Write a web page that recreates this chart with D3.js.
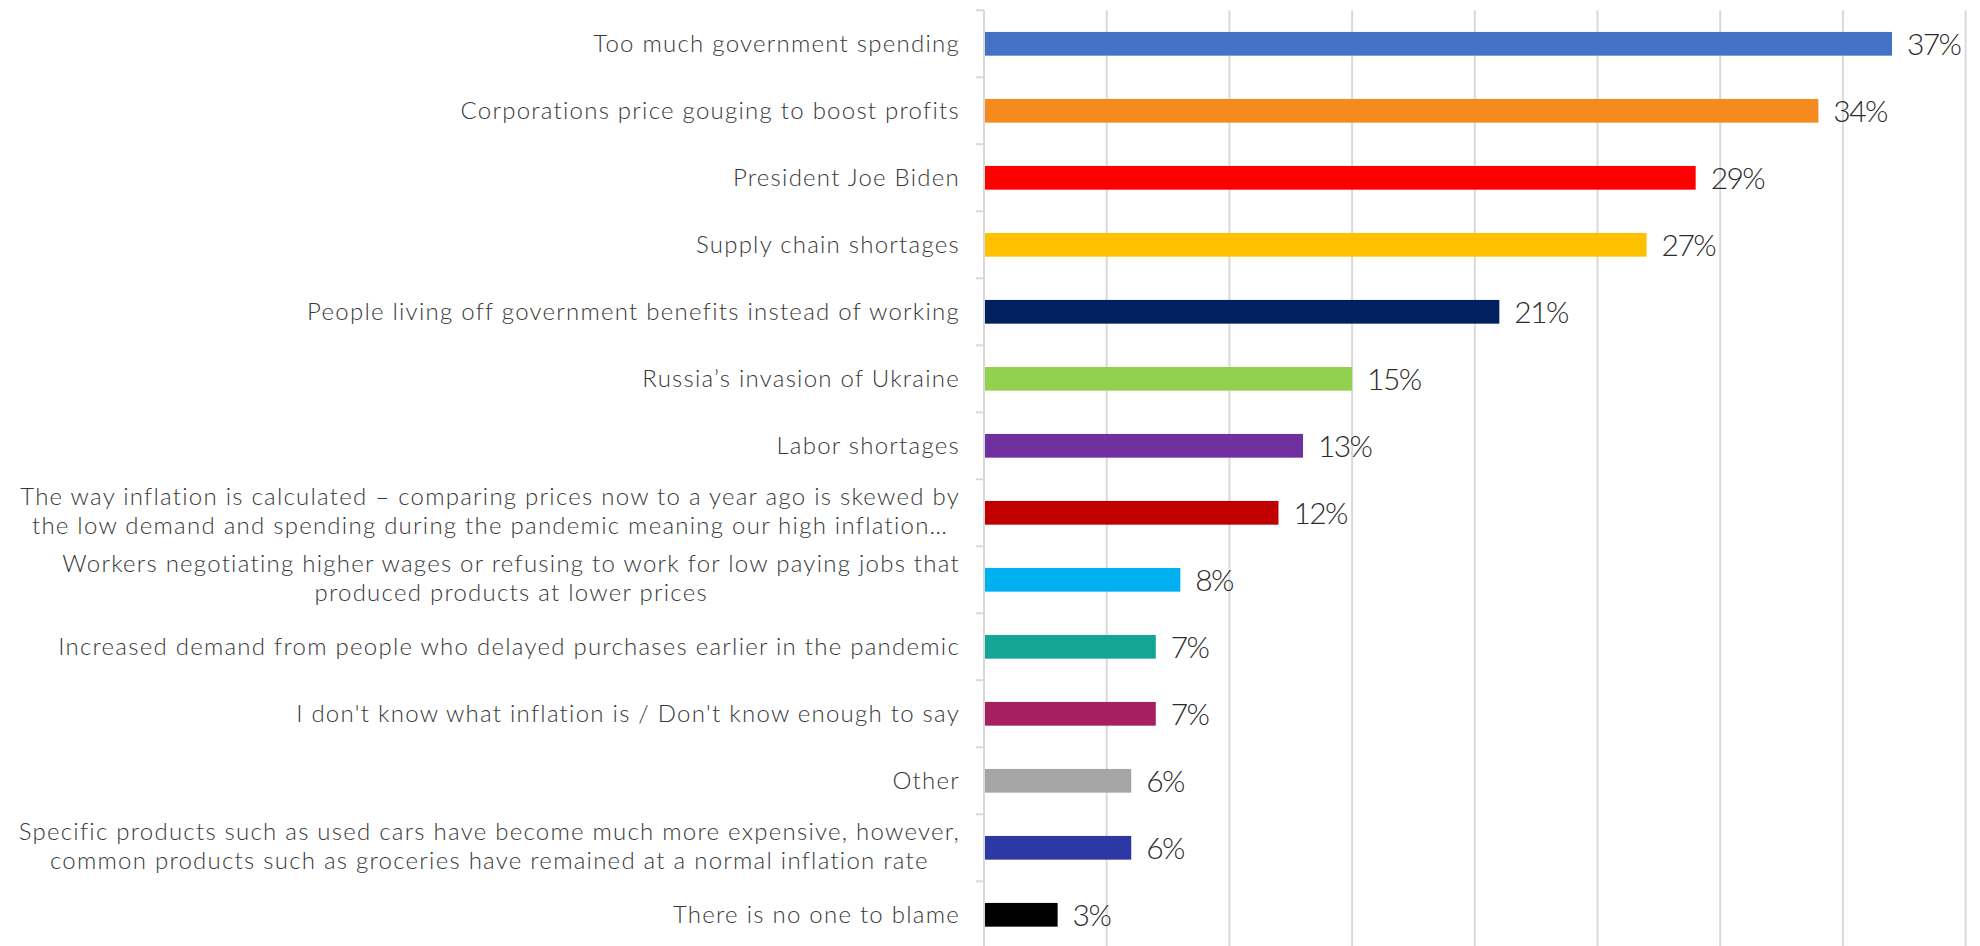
<!DOCTYPE html>
<html>
<head>
<meta charset="utf-8">
<script src="https://cdn.jsdelivr.net/npm/d3@7"></script>
<style>
  html, body { margin: 0; padding: 0; background: #ffffff; }
  svg { display: block; }
  .cat { font-family: Lato, sans-serif; font-weight: 300; font-size: 24px; letter-spacing: 1.25px; fill: #383838; }
  .val { font-family: Lato, sans-serif; font-weight: 300; font-size: 30px; letter-spacing: -1.6px; fill: #2b2b2b; }
</style>
</head>
<body>
<svg id="chart" width="1980" height="946"></svg>
<script>
// Survey responses: who or what is to blame for inflation
const categories = [
  ["Too much government spending"],
  ["Corporations price gouging to boost profits"],
  ["President Joe Biden"],
  ["Supply chain shortages"],
  ["People living off government benefits instead of working"],
  ["Russia\u2019s invasion of Ukraine"],
  ["Labor shortages"],
  ["The way inflation is calculated \u2013 comparing prices now to a year ago is skewed by",
   "the low demand and spending during the pandemic meaning our high inflation\u2026"],
  ["Workers negotiating higher wages or refusing to work for low paying jobs that",
   "produced products at lower prices"],
  ["Increased demand from people who delayed purchases earlier in the pandemic"],
  ["I don't know what inflation is / Don't know enough to say"],
  ["Other"],
  ["Specific products such as used cars have become much more expensive, however,",
   "common products such as groceries have remained at a normal inflation rate"],
  ["There is no one to blame"]
];
const values = [37, 34, 29, 27, 21, 15, 13, 12, 8, 7, 7, 6, 6, 3];
const barColors = ["#4472C4", "#F58B1F", "#FF0000", "#FFC000", "#002060", "#92D050", "#7030A0",
                   "#C00000", "#00B0F0", "#13A596", "#A61F60", "#A5A5A5", "#2E38A5", "#000000"];
const gridTicks = [5, 10, 15, 20, 25, 30, 35, 40];

const svg = d3.select("#chart");
const W = 1980, H = 946;
const plotLeft = 984, plotRight = 1965.6, plotTop = 10.3, step = 67;
const gap = 0.646;

const idx = d3.range(categories.length);
const x = d3.scaleLinear().domain([0, 40]).range([plotLeft, plotRight]);
const y = d3.scaleBand().domain(idx)
  .range([plotTop, plotTop + step * categories.length])
  .paddingInner(gap).paddingOuter(gap / 2);

// vertical gridlines
svg.append("g").selectAll("line").data(gridTicks).join("line")
  .attr("x1", d => x(d)).attr("x2", d => x(d))
  .attr("y1", plotTop).attr("y2", H)
  .attr("stroke", "#D9D9D9").attr("stroke-width", 2);

// category axis line and boundary ticks
svg.append("line")
  .attr("x1", x(0)).attr("x2", x(0)).attr("y1", plotTop).attr("y2", H)
  .attr("stroke", "#D9D9D9").attr("stroke-width", 2);
const bounds = d3.range(categories.length + 1).map(k => plotTop + k * y.step());
svg.append("g").selectAll("line").data(bounds).join("line")
  .attr("x1", x(0) - 8).attr("x2", x(0))
  .attr("y1", d => d).attr("y2", d => d)
  .attr("stroke", "#D9D9D9").attr("stroke-width", 2);

// bars
svg.append("g").selectAll("rect").data(idx).join("rect")
  .attr("x", x(0) + 1)
  .attr("y", i => y(i))
  .attr("width", i => x(values[i]) - x(0) - 1)
  .attr("height", y.bandwidth())
  .attr("fill", i => barColors[i]);

// value labels
svg.append("g").selectAll("text").data(idx).join("text")
  .attr("class", "val")
  .attr("x", i => x(values[i]) + 15)
  .attr("y", i => y(i) + y.bandwidth() / 2 + 11)
  .text(i => values[i] + "%");

// category labels: one text per line, right-aligned block with centred lines
const labelRight = 960, lineH = 29;
const catG = svg.append("g");
idx.forEach(i => {
  const lines = categories[i];
  const cy = y(i) + y.bandwidth() / 2;
  const first = cy + 8.5 - (lines.length - 1) * lineH * 0.55;
  const texts = lines.map((ln, k) =>
    catG.append("text").attr("class", "cat")
      .attr("y", first + k * lineH)
      .attr("text-anchor", "middle")
      .text(ln));
  const maxW = d3.max(texts, t => t.node().getComputedTextLength());
  texts.forEach(t => t.attr("x", labelRight - maxW / 2));
});
</script>
</body>
</html>
